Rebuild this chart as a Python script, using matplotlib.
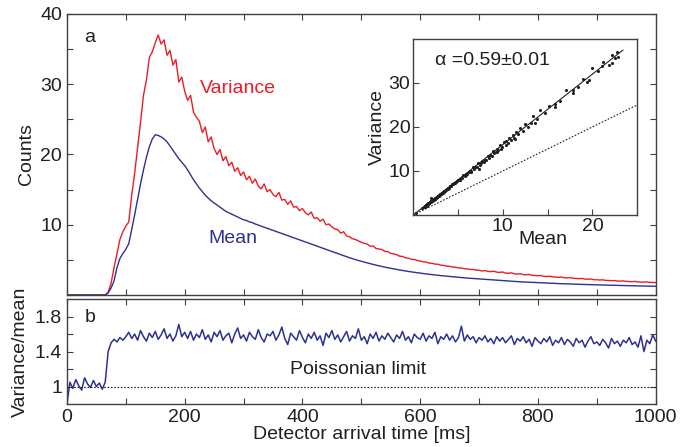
import numpy as np
import matplotlib
matplotlib.use("Agg")
import matplotlib.pyplot as plt

plt.rcParams['font.family'] = ['Liberation Sans', 'DejaVu Sans']

# ------------------------------------------------------------
# data (5 ms steps, 0 .. 1000 ms)
# ------------------------------------------------------------
time_ms = np.arange(0, 1001, 5)

mean_counts = [
    0, 0, 0, 0, 0, 0, 0, 0, 0, 0, 0, 0, 0, 0,
    0.3, 1.0, 2.0, 3.9, 5.2, 5.9, 6.5, 7.3,
    9.3, 11.4, 13.6, 15.8, 17.8, 19.6, 21.1, 22.2, 22.8, 22.7,
    22.5, 22.2, 21.8, 21.2, 20.6, 20.0, 19.4, 18.9, 18.4, 17.8,
    17.1, 16.4, 15.8, 15.2, 14.7, 14.2, 13.8, 13.4, 13.1, 12.8,
    12.5, 12.2, 11.9, 11.7, 11.5, 11.3, 11.1, 10.9, 10.7, 10.6,
    10.4, 10.3, 10.1, 9.95, 9.8, 9.65, 9.5, 9.35, 9.2, 9.05,
    8.9, 8.75, 8.6, 8.45, 8.3, 8.15, 8.0, 7.85, 7.7, 7.55,
    7.4, 7.25, 7.1, 6.95, 6.8, 6.65, 6.5, 6.35, 6.2, 6.05,
    5.9, 5.75, 5.6, 5.45, 5.3, 5.17, 5.04, 4.92, 4.8,
    4.68, 4.57, 4.46, 4.35, 4.25, 4.15, 4.06, 3.97, 3.88, 3.8,
    3.72, 3.64, 3.56, 3.49, 3.42, 3.35, 3.29, 3.23, 3.17, 3.11,
    3.05, 3.0, 2.95, 2.9, 2.85, 2.8, 2.76, 2.72, 2.68, 2.64,
    2.6, 2.56, 2.52, 2.48, 2.44, 2.41, 2.38, 2.35, 2.32, 2.29,
    2.26, 2.23, 2.2, 2.17, 2.14, 2.11, 2.08, 2.05, 2.02, 1.99,
    1.96, 1.93, 1.9, 1.88, 1.86, 1.84, 1.82, 1.8, 1.78, 1.76,
    1.74, 1.72, 1.7, 1.68, 1.66, 1.64, 1.62, 1.61, 1.6, 1.58,
    1.57, 1.55, 1.54, 1.52, 1.51, 1.5, 1.48, 1.47, 1.46, 1.45,
    1.44, 1.42, 1.41, 1.4, 1.39, 1.38, 1.37, 1.36, 1.35, 1.34,
    1.33, 1.32, 1.31, 1.3, 1.29, 1.28, 1.27, 1.26, 1.25, 1.24,
]

variance_counts = [
    0, 0, 0, 0, 0, 0, 0, 0, 0, 0, 0, 0, 0, 0,
    0.4, 1.7, 3.9, 5.9, 7.9, 9.0, 9.8, 10.4,
    14.2, 17.3, 20.9, 24.6, 28.4, 30.6, 33.8, 34.6, 35.9, 37.0,
    35.7, 36.3, 34.1, 34.8, 32.7, 33.5, 30.3, 31.0, 29.0, 27.7,
    28.4, 26.0, 25.3, 24.7, 23.1, 23.9, 21.8, 22.5, 20.8, 20.0,
    20.7, 19.1, 19.7, 18.4, 18.9, 17.6, 18.1, 17.0, 17.5, 16.4,
    16.9, 15.9, 16.5, 15.5, 15.1, 15.8, 14.7, 15.0, 14.3, 14.0,
    14.6, 13.5, 13.6, 12.9, 13.4, 12.5, 12.6, 12.0, 12.3, 11.7,
    11.4, 11.8, 10.9, 11.0, 10.5, 10.8, 10.0, 10.1, 9.7, 9.4,
    9.3, 8.8, 9.0, 8.4, 8.3, 8.0, 7.9, 7.7, 7.5,
    7.35, 7.25, 6.95, 6.98, 6.62, 6.55, 6.48, 6.20, 6.18, 5.92,
    5.86, 5.74, 5.52, 5.50, 5.30, 5.24, 5.08, 5.05, 4.92, 4.84,
    4.72, 4.70, 4.55, 4.52, 4.40, 4.38, 4.24, 4.22, 4.10, 4.09,
    3.98, 3.96, 3.86, 3.84, 3.74, 3.73, 3.64, 3.63, 3.54, 3.52,
    3.42, 3.47, 3.36, 3.33, 3.38, 3.25, 3.22, 3.28, 3.12, 3.10,
    3.15, 3.02, 2.98, 3.04, 2.90, 2.88, 2.93, 2.80, 2.78, 2.74,
    2.76, 2.66, 2.64, 2.68, 2.57, 2.55, 2.52, 2.56, 2.46, 2.44,
    2.47, 2.38, 2.36, 2.33, 2.36, 2.27, 2.25, 2.28, 2.18, 2.17,
    2.14, 2.16, 2.08, 2.07, 2.04, 2.06, 1.99, 1.98, 2.01, 1.94,
    1.92, 1.90, 1.93, 1.86, 1.85, 1.83, 1.86, 1.80, 1.79, 1.78,
]

fano_ratio = [
    0.80, 1.05, 0.98, 1.08, 1.01, 0.96, 1.10, 1.03, 0.99, 1.07, 1.00, 1.04, 0.97, 1.05,
    1.40, 1.50, 1.54, 1.51, 1.56, 1.53, 1.57,
    1.62, 1.55, 1.60, 1.53, 1.64, 1.57, 1.52, 1.61, 1.56, 1.63,
    1.54, 1.59, 1.66, 1.55, 1.60, 1.52, 1.58, 1.71, 1.57, 1.62,
    1.55, 1.63, 1.53, 1.60, 1.56, 1.65, 1.54, 1.59, 1.51, 1.62,
    1.57, 1.64, 1.53, 1.58, 1.61, 1.50, 1.60, 1.67, 1.55, 1.59,
    1.52, 1.62, 1.57, 1.54, 1.65, 1.56, 1.51, 1.60, 1.58, 1.63,
    1.53, 1.59, 1.68, 1.55, 1.48, 1.61, 1.57, 1.53, 1.64, 1.56,
    1.50, 1.60, 1.55, 1.62, 1.53, 1.58, 1.47, 1.61, 1.56, 1.64,
    1.54, 1.59, 1.51, 1.57, 1.63, 1.52, 1.58, 1.55, 1.66, 1.53,
    1.57, 1.49, 1.60, 1.55, 1.62, 1.52, 1.58, 1.54, 1.61, 1.56,
    1.51, 1.59, 1.55, 1.63, 1.53, 1.57, 1.50, 1.60, 1.56, 1.54,
    1.61, 1.52, 1.58, 1.55, 1.62, 1.49, 1.57, 1.54, 1.60, 1.53,
    1.58, 1.51, 1.56, 1.69, 1.52, 1.59, 1.54, 1.57, 1.50, 1.56,
    1.53, 1.58, 1.51, 1.55, 1.49, 1.57, 1.52, 1.56, 1.50, 1.54,
    1.58, 1.48, 1.55, 1.52, 1.57, 1.50, 1.54, 1.46, 1.56, 1.52,
    1.49, 1.55, 1.51, 1.57, 1.47, 1.53, 1.50, 1.56, 1.48, 1.54,
    1.51, 1.46, 1.55, 1.50, 1.53, 1.45, 1.52, 1.57, 1.49, 1.51,
    1.47, 1.54, 1.50, 1.44, 1.55, 1.49, 1.52, 1.46, 1.53, 1.50,
    1.56, 1.48, 1.51, 1.45, 1.58, 1.40, 1.53, 1.49, 1.59, 1.52,
]

FIT_SLOPE = 1.6          # variance = 1.6 * mean  (alpha = 0.59)
FIT_END = 23.4           # fit line drawn up to this mean
POISSON_END = 25

RED = '#ec1c24'
BLUE = '#2e3192'
TXT = '#231f20'
FS = 14

fig = plt.figure(figsize=(6.83, 4.47), dpi=100)

ax_a = fig.add_axes([0.098, 0.340, 0.862, 0.629])
ax_b = fig.add_axes([0.098, 0.096, 0.862, 0.235])
ax_in = fig.add_axes([0.605, 0.519, 0.328, 0.394])

def style(ax):
    for s in ax.spines.values():
        s.set_color('#404040')
        s.set_linewidth(1.0)
    ax.tick_params(direction='in', length=4, width=0.8, color='#404040',
                   labelsize=FS, labelcolor=TXT, top=True, right=True)

# ---------------- panel a ----------------
ax_a.plot(time_ms, variance_counts, color=RED, lw=1.0)
ax_a.plot(time_ms, mean_counts, color=BLUE, lw=1.0)
ax_a.set_xlim(0, 1000)
ax_a.set_ylim(0, 40)
ax_a.set_xticks(np.arange(0, 1001, 100))
ax_a.set_xticklabels([])
ax_a.set_yticks(np.arange(0, 41, 5))
ax_a.set_yticklabels(['' if (v == 0 or v % 10) else str(v) for v in range(0, 41, 5)])
ax_a.set_ylabel('Counts', fontsize=FS, color=TXT, labelpad=4)
style(ax_a)
ax_a.text(39, 36.6, 'a', fontsize=FS, color=TXT, ha='center', va='center')
ax_a.text(290, 29.4, 'Variance', fontsize=FS, color=RED, ha='center', va='center')
ax_a.text(282, 8.0, 'Mean', fontsize=FS, color=BLUE, ha='center', va='center')

# ---------------- inset ----------------
mean_arr = np.array(mean_counts)
var_arr = np.array(variance_counts)
ax_in.scatter(mean_arr, var_arr, s=5, color='#202020', lw=0)
ax_in.plot([0, FIT_END], [0, FIT_SLOPE * FIT_END], color='#202020', lw=0.8)
ax_in.plot([0, POISSON_END], [0, POISSON_END], color='#202020', lw=0.8,
           linestyle=(0, (1.5, 1.5)))
ax_in.set_xlim(0, 25)
ax_in.set_ylim(0, 40)
ax_in.set_xticks([5, 10, 15, 20])
ax_in.set_xticklabels(['', '10', '', '20'])
ax_in.set_yticks([10, 20, 30])
for s in ax_in.spines.values():
    s.set_color('#404040')
    s.set_linewidth(1.0)
ax_in.tick_params(direction='in', length=4, width=0.8, color='#404040',
                  labelsize=FS, labelcolor=TXT, pad=2)
ax_in.set_xlabel('Mean', fontsize=FS, color=TXT)
ax_in.xaxis.set_label_coords(0.58, -0.09)
ax_in.set_ylabel('Variance', fontsize=FS, color=TXT, labelpad=2)
ax_in.text(2.4, 35.2, 'α =0.59±0.01', fontsize=FS, color=TXT,
           ha='left', va='center')

# ---------------- panel b ----------------
ax_b.plot(time_ms, fano_ratio, color=BLUE, lw=1.1)
ax_b.axhline(1.0, color='#202020', lw=0.8, linestyle=(0, (1.5, 1.5)))
ax_b.set_xlim(0, 1000)
ax_b.set_ylim(0.8, 2.0)
ax_b.set_xticks(np.arange(0, 1001, 100))
ax_b.set_xticklabels([str(v) if v % 200 == 0 else '' for v in range(0, 1001, 100)])
ax_b.set_yticks([1.0, 1.2, 1.4, 1.6, 1.8])
ax_b.set_yticklabels(['1', '', '1.4', '', '1.8'])
ax_b.set_ylabel('Variance/mean', fontsize=FS, color=TXT, labelpad=4)
ax_b.set_xlabel('Detector arrival time [ms]', fontsize=FS, color=TXT, labelpad=0)
style(ax_b)
ax_b.text(39, 1.79, 'b', fontsize=FS, color=TXT, ha='center', va='center')
ax_b.text(494, 1.2, 'Poissonian limit', fontsize=FS, color=TXT, ha='center', va='center')

fig.savefig('out.png', dpi=100)
